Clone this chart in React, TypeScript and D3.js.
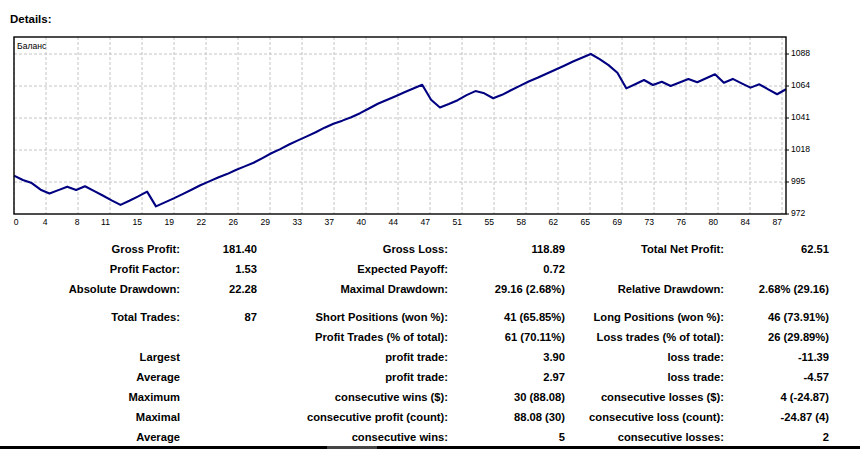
import React from 'react'
import * as d3 from 'd3'

// balance after each trade (index 0 = deposit)
const balance = [
  1000, 996.8, 994.6, 989.8, 987.0, 989.5, 992.0, 989.6, 992.3, 988.9,
  985.6, 982.1, 978.8, 981.8, 985.0, 988.4, 977.72, 980.6, 983.5, 986.6,
  989.8, 993.0, 995.8, 998.6, 1001.1, 1004.0, 1006.7, 1009.3, 1012.7, 1016.2,
  1019.2, 1022.5, 1025.5, 1028.4, 1031.4, 1034.7, 1037.6, 1039.8, 1042.3, 1045.2,
  1048.6, 1052.0, 1054.8, 1057.5, 1060.3, 1063.1, 1065.8, 1054.9, 1049.3, 1051.8,
  1054.6, 1058.3, 1061.2, 1059.6, 1056.0, 1058.5, 1061.8, 1065.0, 1068.1, 1070.8,
  1073.8, 1076.7, 1079.6, 1082.6, 1085.3, 1088.06, 1084.4, 1080.0, 1074.5, 1063.19,
  1066.2, 1069.2, 1065.6, 1068.0, 1064.9, 1067.4, 1069.9, 1067.6, 1070.5, 1073.4,
  1067.3, 1070.0, 1066.8, 1063.7, 1066.1, 1062.4, 1058.9, 1062.51,
]

const xLabels = ['0', '4', '8', '11', '15', '19', '22', '26', '29', '33', '37', '40', '44',
  '47', '51', '55', '58', '62', '65', '69', '73', '76', '80', '84', '87']
const yTicks = [972.2, 995.37, 1018.54, 1041.71, 1064.88, 1088.05]

const col1Labels = ['Gross Profit:', 'Profit Factor:', 'Absolute Drawdown:', 'Total Trades:', '',
  'Largest', 'Average', 'Maximum', 'Maximal', 'Average']
const col1Values = ['181.40', '1.53', '22.28', '87', '', '', '', '', '', '']
const col2Labels = ['Gross Loss:', 'Expected Payoff:', 'Maximal Drawdown:', 'Short Positions (won %):',
  'Profit Trades (% of total):', 'profit trade:', 'profit trade:', 'consecutive wins ($):',
  'consecutive profit (count):', 'consecutive wins:']
const col2Values = ['118.89', '0.72', '29.16 (2.68%)', '41 (65.85%)', '61 (70.11%)', '3.90', '2.97',
  '30 (88.08)', '88.08 (30)', '5']
const col3Labels = ['Total Net Profit:', '', 'Relative Drawdown:', 'Long Positions (won %):',
  'Loss trades (% of total):', 'loss trade:', 'loss trade:', 'consecutive losses ($):',
  'consecutive loss (count):', 'consecutive losses:']
const col3Values = ['62.51', '', '2.68% (29.16)', '46 (73.91%)', '26 (29.89%)', '-11.39', '-4.57',
  '4 (-24.87)', '-24.87 (4)', '2']

const width = 860, height = 449
const plot = { left: 14, top: 37, right: 786, bottom: 214 }
const rowY = [252.5, 272.5, 292.5, 320.5, 340.5, 360.5, 380.5, 400.5, 420.5, 440.5]
const columns = [
  { texts: col1Labels, x: 180 },
  { texts: col1Values, x: 257 },
  { texts: col2Labels, x: 448 },
  { texts: col2Values, x: 565 },
  { texts: col3Labels, x: 724 },
  { texts: col3Values, x: 829 },
]

const font = '"Liberation Sans", Arial, sans-serif'

const App = () => {
  const xScale = d3.scaleLinear().domain([0, balance.length - 1]).range([plot.left, plot.right])
  const yScale = d3.scaleLinear().domain([yTicks[0], yTicks[yTicks.length - 1]]).range([plot.bottom, 54])
  const gridX = d3.scalePoint<string>().domain(xLabels).range([plot.left, 782])

  const line = d3.line<number>()
    .x((d, i) => xScale(i))
    .y(d => yScale(d))

  return (
    <svg width={width} height={height} style={{ position: 'absolute', left: 0, top: 0, background: '#fff' }}>
      <text x={10} y={23} fontFamily={font} fontWeight='bold' fontSize='11.5px' fill='#000'>Details:</text>

      <g>
        {xLabels.map(l => (
          <line key={'gx' + l} x1={gridX(l)} x2={gridX(l)} y1={plot.top} y2={plot.bottom}
            stroke='#c4c4c4' strokeWidth={1} strokeDasharray='3,2' />
        ))}
        {yTicks.slice(1).map(t => (
          <line key={'gy' + t} x1={plot.left} x2={plot.right} y1={yScale(t)} y2={yScale(t)}
            stroke='#c4c4c4' strokeWidth={1} strokeDasharray='3,2' />
        ))}
        <path d={line(balance) || ''} fill='none' stroke='#000080' strokeWidth={2.1} strokeLinejoin='round' />
        <rect x={plot.left} y={plot.top} width={plot.right - plot.left} height={plot.bottom - plot.top}
          fill='none' stroke='#000' strokeWidth={1.4} />
        <text x={17} y={48.5} fontFamily={font} fontSize='8.6px' fill='#000'>Баланс</text>

        {yTicks.map(t => (
          <g key={'ty' + t}>
            <line x1={plot.right} x2={plot.right + 3} y1={yScale(t)} y2={yScale(t)} stroke='#000' strokeWidth={1} />
            <text x={791} y={yScale(t) + 2} fontFamily={font} fontSize='8.6px' fill='#000'>{Math.floor(t)}</text>
          </g>
        ))}
        {xLabels.map(l => (
          <text key={'tx' + l} x={Math.max((gridX(l) || 0) + (l.length === 1 ? 1.5 : 0), plot.left + 4.5)}
            y={225} textAnchor='end' fontFamily={font} fontSize='8.6px' fill='#000'>{l}</text>
        ))}
      </g>

      <g fontFamily={font} fontWeight='bold' fontSize='11.2px' fill='#000'>
        {columns.map((c, ci) => c.texts.map((t, ri) => t ? (
          <text key={ci + '-' + ri} x={c.x} y={rowY[ri]} textAnchor='end'>{t}</text>
        ) : null))}
      </g>

      <rect x={0} y={446} width={width} height={3} fill='#000' />
      <rect x={327} y={446} width={50} height={3} fill='#444' />
    </svg>
  )
}

export default App
